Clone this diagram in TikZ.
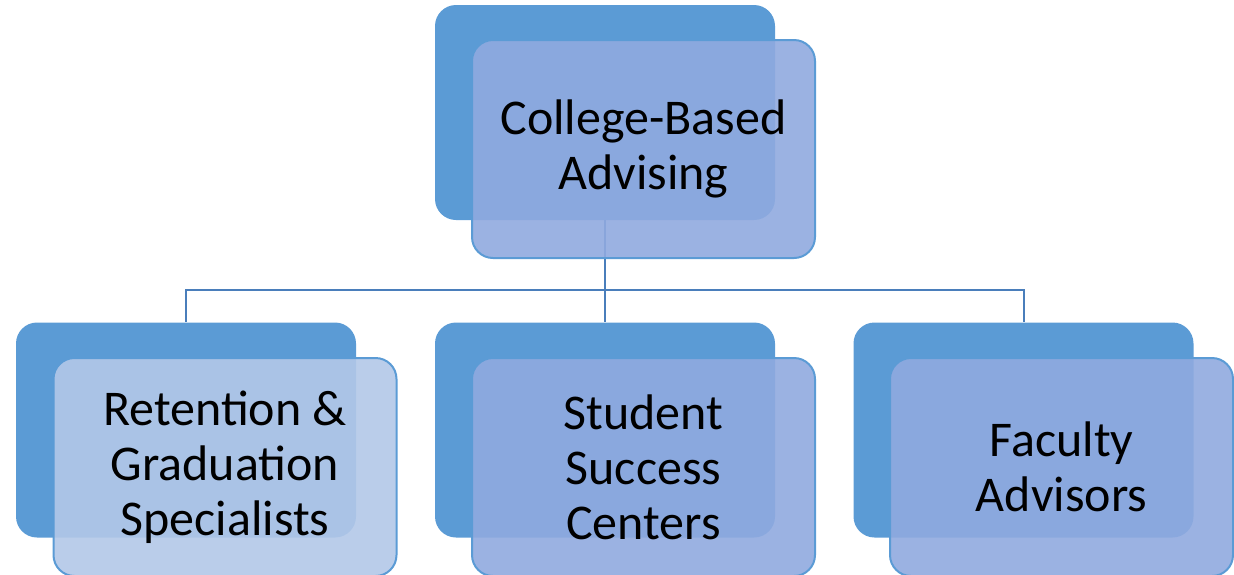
\documentclass[tikz,border=0pt]{standalone}
\usepackage{fontspec}
\setmainfont{Carlito}
\usepackage{tikz}
\usetikzlibrary{positioning}
\definecolor{backblue}{HTML}{5B9BD5}
\definecolor{frontblue}{HTML}{90AADF}
\definecolor{paleblue}{HTML}{B3C8E8}
\definecolor{linkblue}{HTML}{4A7EBB}
\tikzstyle{backbox}=[rectangle, rounded corners=21pt, fill=backblue, inner sep=0pt, minimum width=340pt, minimum height=215pt]
\tikzstyle{frontbox}=[rectangle, rounded corners=21pt, draw=backblue, line width=2pt, fill=frontblue, fill opacity=0.9, text opacity=1, inner sep=0pt, minimum width=343pt, minimum height=218pt, align=center, font=\fontsize{50}{55}\selectfont]
\tikzstyle{link}=[draw=linkblue, line width=2pt]
\newcommand{\backbox}{\node[backbox]}
\newcommand{\frontbox}{\node[frontbox]}

\begin{document}
\begin{tikzpicture}[x=1pt, y=-1pt]
                    \useasboundingbox (0,0) rectangle (1234,574);
                    \backbox (collegeb) at (605,112.5) {};
                    \backbox (retentionb) at (186,430) {};
                    \backbox (successb) at (605,430) {};
                    \backbox (facultyb) at (1023.5,430) {};
                    \coordinate (fork) at (605,290);
                    \draw[link] (collegeb.south) -- (fork);
                    \draw[link] (fork) -| (retentionb.north);
                    \draw[link] (fork) -- (successb.north);
                    \draw[link] (fork) -| (facultyb.north);
                    \frontbox (college) at (643.5,149) {College-Based\\Advising};
                    \frontbox[fill=paleblue] (retention) at (225,467) {Retention \&\\Graduation\\Specialists};
                    \frontbox (success) at (643.5,467) {Student\\Success\\Centers};
                    \frontbox (faculty) at (1061.5,467) {Faculty\\Advisors};
                \end{tikzpicture}
\end{document}
